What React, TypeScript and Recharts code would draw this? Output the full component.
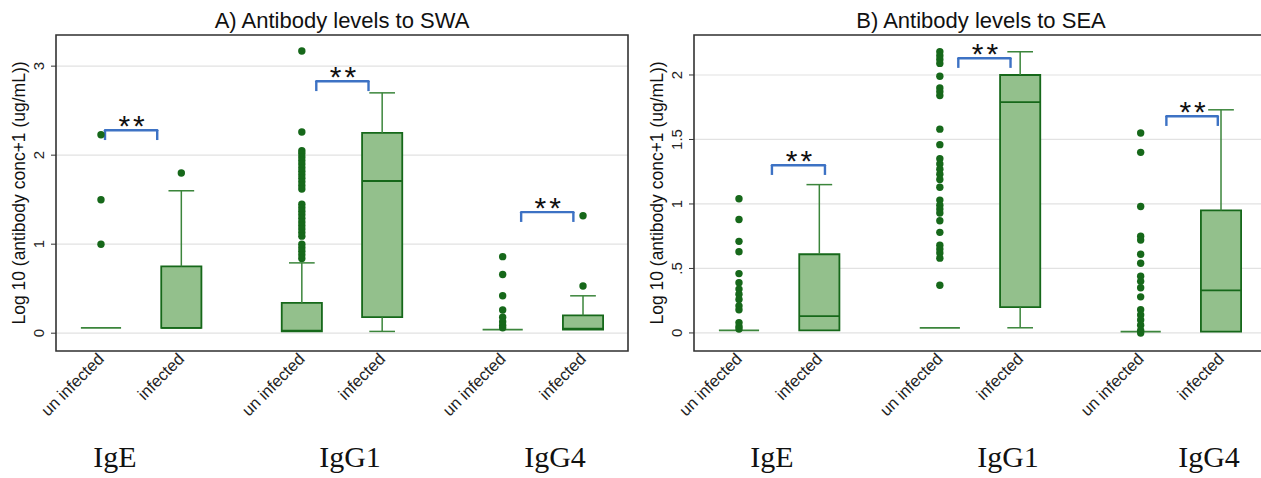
import React from 'react';
import {
  ComposedChart,
  XAxis,
  YAxis,
  CartesianGrid,
  Scatter,
  ReferenceArea,
  ReferenceLine,
} from 'recharts';

// categories and where they sit on the numeric x axis
const groups = ['un infected', 'infected', 'un infected', 'infected', 'un infected', 'infected'];
const xPos = [0, 1, 2.5, 3.5, 5, 6];
const isotypes = ['IgE', 'IgG1', 'IgG4'];

// A) SWA box stats
const swaLow = [0.06, 0.06, 0.02, 0.02, 0.04, 0.04];
const swaQ1 = [0.06, 0.06, 0.02, 0.18, 0.04, 0.04];
const swaMed = [0.06, 0.06, 0.03, 1.71, 0.04, 0.05];
const swaQ3 = [0.06, 0.75, 0.34, 2.25, 0.04, 0.2];
const swaHigh = [0.06, 1.6, 0.79, 2.7, 0.04, 0.42];
const swaOutliers = [
  [1.0, 1.5, 2.23],
  [1.8],
  [3.17, 2.26, 2.05, 2.02, 1.98, 1.94, 1.9, 1.86, 1.82, 1.78, 1.74, 1.7, 1.66, 1.62, 1.45, 1.41, 1.37, 1.33, 1.29, 1.25, 1.21, 1.17, 1.13, 1.09, 1.0, 0.96, 0.92, 0.88, 0.84],
  [],
  [0.86, 0.66, 0.42, 0.26, 0.18, 0.13, 0.09, 0.06],
  [0.53, 1.32],
];
const swaBracketFrom = [0.05, 2.68, 5.23];
const swaBracketTo = [0.7, 3.33, 5.88];
const swaBracketTop = [2.28, 2.83, 1.36];

// B) SEA box stats
const seaLow = [0.02, 0.02, 0.04, 0.04, 0.01, 0.01];
const seaQ1 = [0.02, 0.02, 0.04, 0.2, 0.01, 0.01];
const seaMed = [0.02, 0.13, 0.04, 1.79, 0.01, 0.33];
const seaQ3 = [0.02, 0.61, 0.04, 2.0, 0.01, 0.95];
const seaHigh = [0.02, 1.15, 0.04, 2.18, 0.01, 1.73];
const seaOutliers = [
  [1.04, 0.88, 0.71, 0.63, 0.46, 0.39, 0.34, 0.3, 0.26, 0.21, 0.18, 0.08, 0.05, 0.03],
  [],
  [2.18, 2.15, 2.12, 2.09, 1.99, 1.9, 1.87, 1.84, 1.58, 1.46, 1.35, 1.31, 1.27, 1.23, 1.19, 1.13, 1.03, 0.99, 0.96, 0.93, 0.87, 0.78, 0.68, 0.65, 0.62, 0.58, 0.37],
  [],
  [1.55, 1.4, 0.98, 0.75, 0.72, 0.61, 0.54, 0.44, 0.4, 0.35, 0.28, 0.18, 0.14, 0.1, 0.06, 0.02, 0.0],
  [],
];
const seaBracketFrom = [0.41, 2.73, 5.32];
const seaBracketTo = [1.07, 3.38, 5.96];
const seaBracketTop = [1.3, 2.13, 1.68];

const swaTicks = [0, 1, 2, 3];
const seaTicks = [0, 0.5, 1, 1.5, 2];

const DARK = '#16681a';
const LINE = '#3b853b';
const FILL = '#93c08c';
const BLUE = '#3d72c4';
const FONT = '"Liberation Sans", Arial, sans-serif';

const BOX_HALF = 0.25;
const CAP_HALF = 0.16;

type PanelProps = {
  low: number[];
  q1: number[];
  med: number[];
  q3: number[];
  high: number[];
  outliers: number[][];
  bFrom: number[];
  bTo: number[];
  bTop: number[];
  bDrop: number;
  yDomain: [number, number];
  yTicks: number[];
  yFmt: (v: number) => string;
};

function Panel(p: PanelProps) {
  const dots = p.outliers.flatMap((vals, i) => vals.map((v) => ({ x: xPos[i], y: v })));
  const stars = p.bFrom.map((f, i) => ({ x: (f + p.bTo[i]) / 2, y: p.bTop[i] }));
  const xDomain: [number, number] = [-0.56, 6.56];
  const boxed = (i: number) => p.q3[i] - p.q1[i] > 0.005;

  return (
    <ComposedChart width={630} height={478} margin={{ top: 35, right: 2, left: 16, bottom: 27 }}>
      <CartesianGrid horizontal vertical={false} stroke="#e2e2e2" strokeWidth={1.2} />
      <XAxis
        type="number"
        dataKey="x"
        domain={xDomain}
        allowDataOverflow
        ticks={xPos}
        interval={0}
        height={100}
        axisLine={false}
        tickLine={false}
        tickSize={4}
        tick={(t: any) => {
          const label = groups[xPos.indexOf(t.payload.value)] ?? '';
          const tx = t.x + 4;
          const ty = t.y + 3;
          return (
            <text
              x={tx}
              y={ty}
              transform={`rotate(-45 ${tx} ${ty})`}
              textAnchor="end"
              fontSize={16.5}
              fontFamily={FONT}
              fill="#222"
            >
              {label}
            </text>
          );
        }}
      />
      <YAxis
        type="number"
        dataKey="y"
        domain={p.yDomain}
        allowDataOverflow
        ticks={p.yTicks}
        width={40}
        axisLine={false}
        tickLine={{ stroke: '#333' }}
        tickSize={5}
        tick={(t: any) => {
          const tx = t.x - 10;
          return (
            <text
              x={tx}
              y={t.y}
              transform={`rotate(-90 ${tx} ${t.y})`}
              textAnchor="middle"
              dominantBaseline="central"
              fontSize={15}
              fontFamily={FONT}
              fill="#222"
            >
              {p.yFmt(t.payload.value)}
            </text>
          );
        }}
      />
      <ReferenceArea
        x1={xDomain[0]}
        x2={xDomain[1]}
        y1={p.yDomain[0]}
        y2={p.yDomain[1]}
        fill="none"
        fillOpacity={0}
        stroke="#333"
        strokeWidth={1.6}
      />
      {xPos.map((x, i) => (
        <ReferenceLine
          key={`wu${i}`}
          segment={[{ x, y: p.q3[i] }, { x, y: p.high[i] }]}
          stroke={LINE}
          strokeWidth={1.5}
        />
      ))}
      {xPos.map((x, i) =>
        p.high[i] > p.q3[i] ? (
          <ReferenceLine
            key={`cu${i}`}
            segment={[{ x: x - CAP_HALF, y: p.high[i] }, { x: x + CAP_HALF, y: p.high[i] }]}
            stroke={LINE}
            strokeWidth={1.5}
          />
        ) : null
      )}
      {xPos.map((x, i) =>
        p.low[i] < p.q1[i] ? (
          <ReferenceLine
            key={`wl${i}`}
            segment={[{ x, y: p.low[i] }, { x, y: p.q1[i] }]}
            stroke={LINE}
            strokeWidth={1.5}
          />
        ) : null
      )}
      {xPos.map((x, i) =>
        p.low[i] < p.q1[i] ? (
          <ReferenceLine
            key={`cl${i}`}
            segment={[{ x: x - CAP_HALF, y: p.low[i] }, { x: x + CAP_HALF, y: p.low[i] }]}
            stroke={LINE}
            strokeWidth={1.5}
          />
        ) : null
      )}
      {xPos.map((x, i) =>
        boxed(i) ? (
          <ReferenceArea
            key={`b${i}`}
            x1={x - BOX_HALF}
            x2={x + BOX_HALF}
            y1={p.q1[i]}
            y2={p.q3[i]}
            fill={FILL}
            fillOpacity={1}
            stroke={DARK}
            strokeWidth={1.8}
          />
        ) : null
      )}
      {xPos.map((x, i) => (
        <ReferenceLine
          key={`m${i}`}
          segment={[{ x: x - BOX_HALF, y: p.med[i] }, { x: x + BOX_HALF, y: p.med[i] }]}
          stroke={boxed(i) ? DARK : LINE}
          strokeWidth={1.8}
        />
      ))}
      {p.bFrom.map((f, i) => (
        <ReferenceLine
          key={`bt${i}`}
          segment={[{ x: f, y: p.bTop[i] }, { x: p.bTo[i], y: p.bTop[i] }]}
          stroke={BLUE}
          strokeWidth={2.4}
          strokeLinecap="round"
        />
      ))}
      {p.bFrom.map((f, i) => (
        <ReferenceLine
          key={`bl${i}`}
          segment={[{ x: f, y: p.bTop[i] }, { x: f, y: p.bTop[i] - p.bDrop }]}
          stroke={BLUE}
          strokeWidth={2.4}
        />
      ))}
      {p.bTo.map((t, i) => (
        <ReferenceLine
          key={`br${i}`}
          segment={[{ x: t, y: p.bTop[i] }, { x: t, y: p.bTop[i] - p.bDrop }]}
          stroke={BLUE}
          strokeWidth={2.4}
        />
      ))}
      <Scatter
        data={dots}
        isAnimationActive={false}
        shape={(s: any) => <circle cx={s.cx} cy={s.cy} r={3.7} fill={DARK} />}
      />
      <Scatter
        data={stars}
        isAnimationActive={false}
        shape={(s: any) => (
          <text
            x={s.cx + 2}
            y={s.cy + 6}
            textAnchor="middle"
            fontSize={30}
            fontFamily={FONT}
            letterSpacing={3}
            fill="#111"
          >
            **
          </text>
        )}
      />
    </ComposedChart>
  );
}

const groupLabelX = [[115, 350, 555], [772, 1008, 1209]];

export default function App() {
  return (
    <div style={{ position: 'absolute', left: 0, top: 0, width: 1261, height: 478, overflow: 'hidden', background: '#fff' }}>
      <div style={{ position: 'absolute', left: 0, top: 0 }}>
        <Panel
          low={swaLow}
          q1={swaQ1}
          med={swaMed}
          q3={swaQ3}
          high={swaHigh}
          outliers={swaOutliers}
          bFrom={swaBracketFrom}
          bTo={swaBracketTo}
          bTop={swaBracketTop}
          bDrop={0.11}
          yDomain={[-0.2, 3.35]}
          yTicks={swaTicks}
          yFmt={(v) => String(v)}
        />
      </div>
      <div style={{ position: 'absolute', left: 638, top: 0 }}>
        <Panel
          low={seaLow}
          q1={seaQ1}
          med={seaMed}
          q3={seaQ3}
          high={seaHigh}
          outliers={seaOutliers}
          bFrom={seaBracketFrom}
          bTo={seaBracketTo}
          bTop={seaBracketTop}
          bDrop={0.075}
          yDomain={[-0.14, 2.31]}
          yTicks={seaTicks}
          yFmt={(v) => (v === 0.5 ? '.5' : String(v))}
        />
      </div>
      <svg width={1261} height={478} style={{ position: 'absolute', left: 0, top: 0, pointerEvents: 'none' }}>
        <text x={342} y={28} textAnchor="middle" fontSize={22} fontFamily={FONT} fill="#111">
          A) Antibody levels to SWA
        </text>
        <text x={981} y={28} textAnchor="middle" fontSize={22} fontFamily={FONT} fill="#111">
          B) Antibody levels to SEA
        </text>
        {[19, 657].map((x) => (
          <text
            key={x}
            x={x}
            y={193}
            transform={`rotate(-90 ${x} 193)`}
            textAnchor="middle"
            dominantBaseline="central"
            fontSize={17.5}
            fontFamily={FONT}
            fill="#111"
          >
            Log 10 (antibody conc+1 (ug/mL))
          </text>
        ))}
        {groupLabelX.map((row, r) =>
          row.map((x, i) => (
            <text
              key={`${r}-${i}`}
              x={x}
              y={467}
              textAnchor="middle"
              fontSize={30}
              fontFamily='"Liberation Serif", "Times New Roman", serif'
              fill="#111"
            >
              {isotypes[i]}
            </text>
          ))
        )}
      </svg>
    </div>
  );
}
